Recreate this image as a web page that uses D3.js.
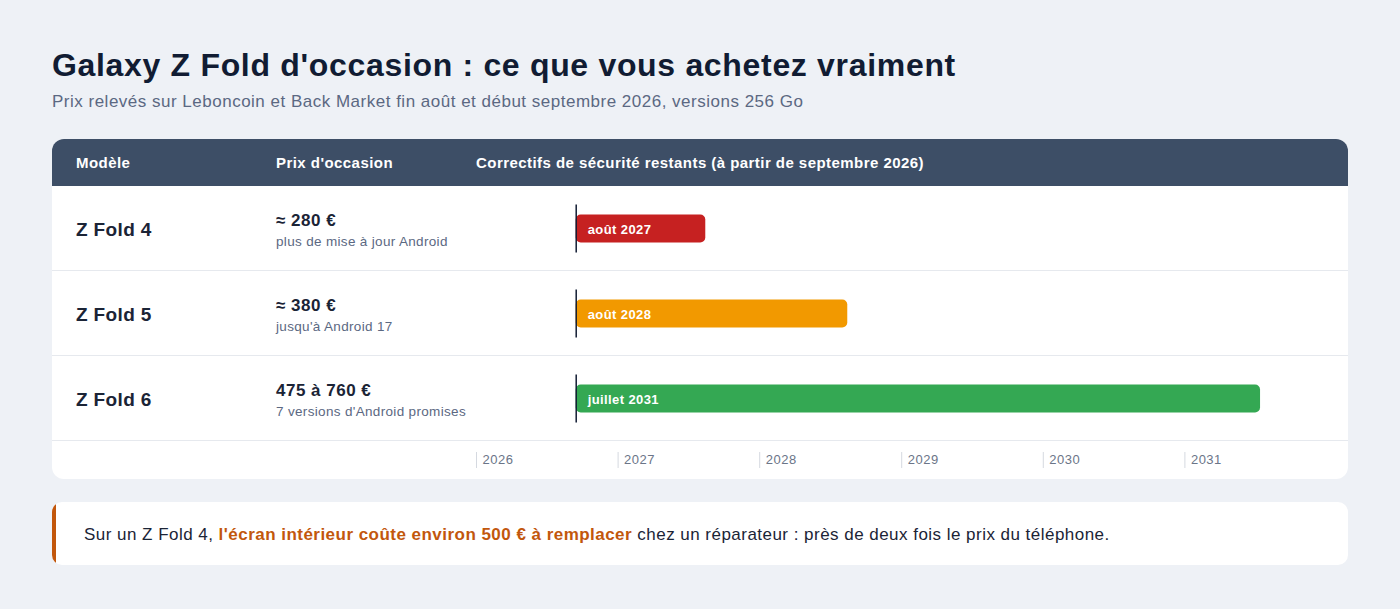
<!DOCTYPE html>
<html lang="fr">
<head>
<meta charset="utf-8">
<script src="https://cdn.jsdelivr.net/npm/d3@7.9.0/dist/d3.min.js"></script>
<style>
  html, body { margin: 0; padding: 0; background: #eef1f6; }
  svg { display: block; font-family: "Liberation Sans", Arial, Helvetica, sans-serif; }
</style>
</head>
<body>
<svg id="chart" width="1400" height="609"></svg>
<script>
// --- data ---
const models    = ['Z Fold 4', 'Z Fold 5', 'Z Fold 6'];
const prices    = ['≈ 280 €', '≈ 380 €', '475 à 760 €'];
const priceNote = ['plus de mise à jour Android', "jusqu'à Android 17", "7 versions d'Android promises"];
const endDates  = ['2027-08-15', '2028-08-15', '2031-07-15'];
const endLabels = ['août 2027', 'août 2028', 'juillet 2031'];
const barColors = ['#c62121', '#f29900', '#34a853'];
const startDate = '2026-09-15';
const tickYears = [2026, 2027, 2028, 2029, 2030, 2031];
const headers   = ['Modèle', "Prix d'occasion", 'Correctifs de sécurité restants (à partir de septembre 2026)'];

const parse = d3.timeParse('%Y-%m-%d');
const rows = models.map((m, i) => ({
  model: m, price: prices[i], note: priceNote[i],
  end: parse(endDates[i]), label: endLabels[i], color: barColors[i]
}));

const svg = d3.select('#chart');

// title
svg.append('text')
   .attr('x', 52).attr('y', 76)
   .attr('font-size', 32).attr('font-weight', 700)
   .attr('letter-spacing', 0.68)
   .attr('fill', '#111c33')
   .text("Galaxy Z Fold d'occasion : ce que vous achetez vraiment");

svg.append('text')
   .attr('x', 52).attr('y', 107)
   .attr('font-size', 17).attr('fill', '#5b6882')
   .attr('letter-spacing', 0.5)
   .text('Prix relevés sur Leboncoin et Back Market fin août et début septembre 2026, versions 256 Go');

// card
const card = { x: 52, y: 139, w: 1296, h: 340 };
const headerH = 47, rowH = 85;

svg.append('clipPath').attr('id', 'cardClip')
   .append('rect')
   .attr('x', card.x).attr('y', card.y).attr('width', card.w).attr('height', card.h)
   .attr('rx', 12);

const g = svg.append('g').attr('clip-path', 'url(#cardClip)');

g.append('rect')
 .attr('x', card.x).attr('y', card.y).attr('width', card.w).attr('height', card.h)
 .attr('fill', '#ffffff');

g.append('rect')
 .attr('x', card.x).attr('y', card.y).attr('width', card.w).attr('height', headerH)
 .attr('fill', '#3d4e66');

const colX = [76, 276, 476];
headers.forEach((h, i) => {
  g.append('text')
   .attr('x', colX[i]).attr('y', card.y + headerH / 2 + 5)
   .attr('font-size', 15).attr('font-weight', 700).attr('fill', '#ffffff')
   .attr('letter-spacing', 0.45)
   .text(h);
});

// scale
const x = d3.scaleTime()
  .domain([new Date(2026, 0, 1), new Date(2032, 0, 1)])
  .range([476, 1326]);

const y = d3.scaleBand()
  .domain(models)
  .range([card.y + headerH, card.y + headerH + rowH * models.length]);

const rowG = g.selectAll('g.row')
  .data(rows)
  .join('g')
  .attr('class', 'row')
  .attr('transform', d => `translate(0,${y(d.model)})`);

rowG.append('line')
  .attr('x1', card.x).attr('x2', card.x + card.w)
  .attr('y1', rowH - 0.5).attr('y2', rowH - 0.5)
  .attr('stroke', '#e6e9ee');

rowG.append('text')
  .attr('x', colX[0]).attr('y', rowH / 2 + 7)
  .attr('font-size', 19).attr('font-weight', 700).attr('fill', '#1b2436')
  .attr('letter-spacing', 0.35)
  .text(d => d.model);

rowG.append('text')
  .attr('x', colX[1]).attr('y', rowH / 2 - 3)
  .attr('font-size', 17).attr('font-weight', 700).attr('fill', '#1b2436')
  .attr('letter-spacing', 0.5)
  .text(d => d.price);

rowG.append('text')
  .attr('x', colX[1]).attr('y', rowH / 2 + 17)
  .attr('font-size', 13.5).attr('fill', '#5b6882')
  .attr('letter-spacing', 0.33)
  .text(d => d.note);

const x0 = x(parse(startDate));

rowG.append('rect')
  .attr('x', x0).attr('y', rowH / 2 - 14)
  .attr('width', d => x(d.end) - x0).attr('height', 28)
  .attr('rx', 5)
  .attr('fill', d => d.color);

rowG.append('line')
  .attr('x1', x0 + 0.5).attr('x2', x0 + 0.5)
  .attr('y1', rowH / 2 - 24).attr('y2', rowH / 2 + 24)
  .attr('stroke', '#111c33').attr('stroke-width', 1.5);

rowG.append('text')
  .attr('x', x0 + 12).attr('y', rowH / 2 + 5)
  .attr('font-size', 13).attr('font-weight', 700).attr('fill', '#ffffff')
  .attr('letter-spacing', 0.4)
  .text(d => d.label);

// axis row
const axisY = card.y + headerH + rowH * models.length;
const axis = d3.axisBottom(x)
  .tickValues(tickYears.map(yr => new Date(yr, 0, 1)))
  .tickFormat(d3.timeFormat('%Y'))
  .tickSize(16);

const axisG = g.append('g')
  .attr('transform', `translate(0,${axisY + 11})`)
  .call(axis);

axisG.select('.domain').remove();
axisG.selectAll('.tick line').attr('stroke', '#d5d9e0');
axisG.selectAll('.tick text')
  .attr('text-anchor', 'start')
  .attr('x', 6).attr('y', 3).attr('dy', '0.71em')
  .attr('font-size', 13).attr('fill', '#6b7588')
  .attr('letter-spacing', 0.5)
  .attr('font-family', 'inherit');

// note
const note = { x: 52, y: 502, w: 1296, h: 63 };
svg.append('clipPath').attr('id', 'noteClip')
   .append('rect')
   .attr('x', note.x).attr('y', note.y).attr('width', note.w).attr('height', note.h)
   .attr('rx', 10);

const ng = svg.append('g').attr('clip-path', 'url(#noteClip)');
ng.append('rect')
  .attr('x', note.x).attr('y', note.y).attr('width', note.w).attr('height', note.h)
  .attr('fill', '#ffffff');
ng.append('rect')
  .attr('x', note.x).attr('y', note.y).attr('width', 4).attr('height', note.h)
  .attr('fill', '#c2570c');

const nt = svg.append('text')
  .attr('x', 84).attr('y', note.y + note.h / 2 + 6)
  .attr('font-size', 17).attr('fill', '#1b2436')
  .attr('letter-spacing', 0.47);
nt.append('tspan').text('Sur un Z Fold 4, ');
nt.append('tspan').attr('font-weight', 700).attr('fill', '#c2570c')
  .text("l'écran intérieur coûte environ 500 € à remplacer");
nt.append('tspan').text(' chez un réparateur : près de deux fois le prix du téléphone.');
</script>
</body>
</html>
